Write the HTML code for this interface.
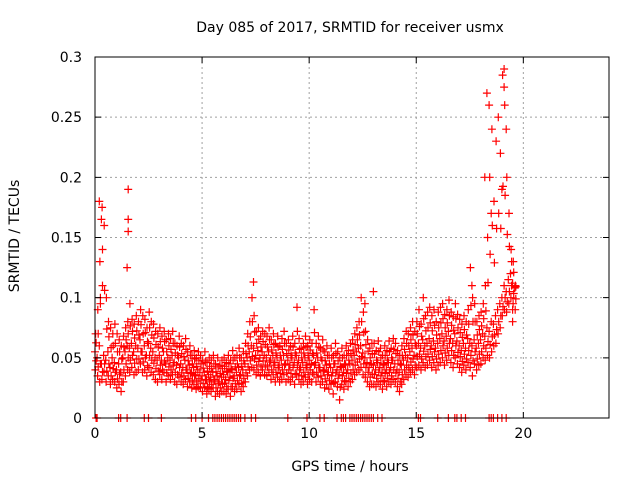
<!DOCTYPE html>
<html><head><meta charset="utf-8"><style>
body{margin:0;background:#fff;}
svg text{font-family:"DejaVu Sans","Liberation Sans",sans-serif;font-size:14px;fill:#000;}
</style></head><body>
<svg id="chart" width="640" height="480" xmlns="http://www.w3.org/2000/svg">
<rect width="640" height="480" fill="#fff"/>
<g id="grid"></g>
<g id="pts"></g>
<g id="axes"></g>
<text x="350" y="32" text-anchor="middle">Day 085 of 2017, SRMTID for receiver usmx</text>
<text x="350" y="471" text-anchor="middle">GPS time / hours</text>
<text x="0" y="0" text-anchor="middle" transform="translate(19,236) rotate(-90)">SRMTID / TECUs</text>
</svg>
<script>
const xTicks=[0,5,10,15,20];
const yTicks=[0,0.05,0.1,0.15,0.2,0.25,0.3];
const yTickLabels=["0","0.05","0.1","0.15","0.2","0.25","0.3"];
const dt=0.1;
const mid=[55,50,60,45,52,48,55,42,50,46,40,45,38,50,55,60,58,62,55,60,58,65,55,60,52,62,58,55,50,48,52,48,55,45,50,48,52,46,44,50,45,42,48,40,44,38,42,36,40,38,35,38,32,36,34,38,32,35,30,34,36,32,38,34,40,35,38,42,36,40,45,50,55,60,58,52,56,50,55,52,50,55,48,52,46,50,44,48,52,45,48,44,50,46,52,48,42,46,50,44,48,45,52,46,50,42,48,40,44,38,42,38,45,40,36,42,38,44,40,45,48,52,55,58,60,54,50,46,42,45,44,40,46,42,38,44,40,46,42,48,45,40,38,44,48,52,50,55,58,52,60,62,58,65,60,62,66,60,64,58,62,66,70,64,68,72,66,62,70,64,60,56,62,58,66,62,60,65,58,62,65,70,68,75,72,80,78,85,90,95,100,110,105,115,120,112,108];
const lo=[40,35,30,32,38,30,35,28,32,30,25,28,22,30,35,40,38,42,36,38,40,45,38,40,35,42,38,36,32,30,36,32,38,30,35,32,36,30,28,34,30,28,32,26,30,25,28,24,26,25,22,25,20,24,22,25,18,22,20,22,22,20,24,18,26,22,24,28,22,26,30,35,40,42,40,36,38,35,40,36,35,38,32,36,30,34,30,32,36,30,32,30,34,28,36,32,28,30,34,28,32,30,36,30,34,28,30,25,28,24,28,20,30,26,15,28,24,30,26,30,32,36,38,40,42,36,34,30,26,28,28,26,30,28,24,30,26,30,28,32,30,26,22,28,32,36,34,38,40,36,42,44,40,46,42,44,48,42,46,40,44,46,50,44,48,52,46,42,50,45,42,38,44,40,46,42,35,45,40,44,45,50,48,52,50,55,60,62,70,75,85,90,88,95,100,95,90];
const hi=[70,90,130,175,160,100,80,75,70,78,70,65,60,68,75,80,95,82,78,85,80,90,85,82,75,88,80,78,72,70,75,68,72,65,70,66,72,62,60,68,62,60,66,55,60,52,56,50,55,52,48,55,46,50,48,52,45,50,44,48,50,46,52,48,56,50,52,58,50,55,62,70,80,100,85,72,75,68,72,70,68,75,65,70,62,68,60,66,72,62,65,60,68,62,92,66,58,62,68,60,65,62,90,62,68,58,65,55,60,52,58,52,62,55,50,58,52,60,56,62,65,70,75,80,100,88,72,65,58,62,62,56,64,58,52,60,56,64,58,66,62,56,52,60,66,72,70,75,80,72,80,90,78,100,85,88,92,85,90,80,88,92,95,86,90,98,88,84,95,86,82,78,85,80,90,125,100,95,80,85,88,95,110,150,200,240,180,230,250,220,285,260,200,170,140,130,110];
const spikeT=[0.2,0.3,0.35,1.55,1.55,1.55,1.5,18.3,18.4,19.1,19.1,19.0,18.5,19.2,18.2,17.6,19.5,19.5,0.25,7.4,13.0,12.6];
const spikeV=[0.18,0.165,0.14,0.19,0.165,0.155,0.125,0.27,0.26,0.29,0.275,0.19,0.17,0.24,0.2,0.11,0.08,0.09,0.1,0.113,0.105,0.095];
const zeroT=[0.05,0.1,1.1,1.2,1.5,2.3,2.5,3.1,4.5,4.7,5.0,5.3,5.5,5.6,5.7,5.8,5.9,6.0,6.1,6.2,6.3,6.4,6.5,6.6,6.7,6.8,7.0,7.3,7.5,9.0,9.9,10.5,10.7,11.3,11.5,11.6,11.7,11.9,12.0,12.1,12.2,12.3,12.4,12.5,12.6,12.7,12.8,12.9,13.0,13.2,13.4,15.1,15.2,16.0,16.5,16.8,16.9,17.1,17.3,18.4,18.5,18.6,18.8,19.0,19.2];

const X0=95,X1=609,Y0=418,Y1=57;
const xs=t=>X0+t/24*(X1-X0);
const ys=v=>Y0-v/0.3*(Y0-Y1);
const NS="http://www.w3.org/2000/svg";
function mk(tag,attrs,parent){const e=document.createElementNS(NS,tag);for(const k in attrs)e.setAttribute(k,attrs[k]);parent.appendChild(e);return e;}
const grid=document.getElementById('grid'),axes=document.getElementById('axes'),pts=document.getElementById('pts');
xTicks.forEach(t=>{const x=xs(t);
 if(t>0){const g=mk('line',{x1:x,x2:x,y1:Y1,y2:Y0,stroke:'#a0a0a0','stroke-dasharray':'2,3'},grid);
 
 }
 const tk=mk('path',{d:`M${x},${Y0}v-6M${x},${Y1}v6`,stroke:'#000'},axes);
 
 
 const lb=mk('text',{x:x,y:Y0+20,'text-anchor':'middle'},axes);lb.textContent=t;
 
 });
yTicks.forEach((v,i)=>{const y=ys(v);
 if(v>0&&v<0.3){const g=mk('line',{x1:X0,x2:X1,y1:y,y2:y,stroke:'#a0a0a0','stroke-dasharray':'2,3'},grid);
 
 }
 const tk=mk('path',{d:`M${X0},${y}h6M${X1},${y}h-6`,stroke:'#000'},axes);
 
 
 const lb=mk('text',{x:X0-13,y:y+5,'text-anchor':'end'},axes);lb.textContent=yTickLabels[i];
 
 });
const fr=mk('rect',{x:X0,y:Y1,width:X1-X0,height:Y0-Y1,fill:'none',stroke:'#000'},axes);


let d='';
function plus(t,v){const x=xs(t),y=ys(v);d+=`M${(x-4).toFixed(1)},${y.toFixed(1)}h8M${x.toFixed(1)},${(y-4).toFixed(1)}v8`;}
mid.forEach((v,i)=>{plus(i*dt,v/1000);plus(i*dt+0.05,(v+lo[i])/2000);plus(i*dt+0.05,(v+hi[i])/2000);});
lo.forEach((v,i)=>plus(i*dt+0.02,v/1000));
hi.forEach((v,i)=>plus(i*dt+0.03,v/1000));
spikeT.forEach((t,i)=>plus(t,spikeV[i]));
zeroT.forEach(t=>plus(t,0));
const p=mk('path',{d:d,stroke:'#ff0000','stroke-width':1.2,fill:'none'},pts);


</script>
</body></html>
